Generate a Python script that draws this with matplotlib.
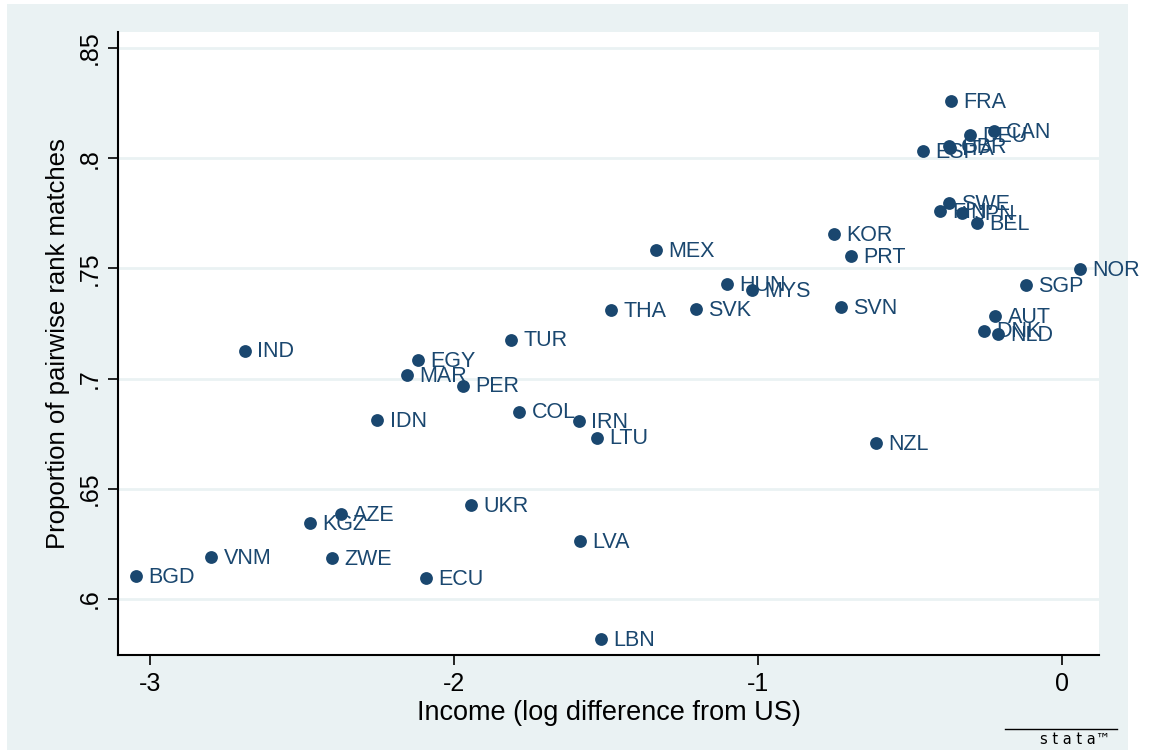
import matplotlib
matplotlib.use('Agg')
import matplotlib.pyplot as plt
from matplotlib.patches import Rectangle
from matplotlib.lines import Line2D

# country codes, log income difference from US, proportion of pairwise rank matches
countries = ['FRA', 'CAN', 'DEU', 'GBR', 'ITA', 'ESP', 'SWE', 'FIN', 'JPN', 'BEL',
             'KOR', 'PRT', 'MEX', 'NOR', 'SGP', 'HUN', 'MYS', 'THA', 'SVK', 'SVN',
             'AUT', 'DNK', 'NLD', 'TUR', 'IND', 'EGY', 'MAR', 'PER', 'IDN', 'COL',
             'IRN', 'LTU', 'NZL', 'UKR', 'AZE', 'KGZ', 'LVA', 'VNM', 'ZWE', 'BGD',
             'ECU', 'LBN']
income = [-0.365, -0.224, -0.303, -0.372, -0.369, -0.457, -0.372, -0.401, -0.329, -0.280,
          -0.750, -0.694, -1.336, 0.059, -0.118, -1.102, -1.020, -1.484, -1.204, -0.727,
          -0.220, -0.257, -0.211, -1.813, -2.688, -2.118, -2.155, -1.970, -2.253, -1.786,
          -1.589, -1.530, -0.612, -1.944, -2.372, -2.474, -1.586, -2.799, -2.401, -3.046,
          -2.092, -1.516]
matches = [0.8259, 0.8123, 0.8105, 0.8055, 0.8045, 0.8032, 0.7795, 0.7762, 0.7750, 0.7705,
           0.7655, 0.7555, 0.7582, 0.7495, 0.7423, 0.7427, 0.7402, 0.7309, 0.7314, 0.7323,
           0.7282, 0.7218, 0.7200, 0.7177, 0.7127, 0.7082, 0.7014, 0.6968, 0.6813, 0.6850,
           0.6805, 0.6732, 0.6709, 0.6427, 0.6386, 0.6345, 0.6263, 0.6188, 0.6186, 0.6104,
           0.6095, 0.5818]

navy = '#1a476f'
bg = '#eaf2f3'
sans = ['Liberation Sans', 'DejaVu Sans']

fig = plt.figure(figsize=(11.53, 7.54), dpi=100, facecolor='white')
fig.patches.append(Rectangle((7 / 1153, 4 / 754), 1121 / 1153, 746 / 754,
                             transform=fig.transFigure, facecolor=bg,
                             edgecolor='none', zorder=-1))

ax = fig.add_axes([118 / 1153, 1 - 655 / 754, 981 / 1153, 623 / 754])
ax.set_facecolor('white')

ax.scatter(income, matches, s=85, color=navy, zorder=3, linewidths=0)
for c, x, y in zip(countries, income, matches):
    ax.annotate(c, (x, y), xytext=(9, -1), textcoords='offset points',
                va='center', ha='left', color=navy, fontsize=15.5,
                family=sans, zorder=4)

ax.set_xlim(-3.105, 0.122)
ax.set_ylim(0.5745, 0.8573)
ax.set_xticks([-3, -2, -1, 0])
ax.set_xticklabels(['-3', '-2', '-1', '0'])
ax.set_yticks([0.6, 0.65, 0.7, 0.75, 0.8, 0.85])
ax.set_yticklabels(['.6', '.65', '.7', '.75', '.8', '.85'], rotation=90, va='center')
ax.tick_params(axis='both', direction='out', length=7, width=1.2, labelsize=18,
               colors='black', pad=5)
for lab in ax.get_xticklabels() + ax.get_yticklabels():
    lab.set_family(sans)

ax.grid(axis='y', color=bg, linewidth=2)
ax.set_axisbelow(True)
ax.spines['top'].set_visible(False)
ax.spines['right'].set_visible(False)
ax.spines['left'].set_linewidth(1.5)
ax.spines['bottom'].set_linewidth(1.5)

ax.set_xlabel('Income (log difference from US)', fontsize=19.5, family=sans, labelpad=3)
ax.set_ylabel('Proportion of pairwise rank matches', fontsize=18.5, family=sans, labelpad=5)

# stata logo
fig.text(1075 / 1153, 1 - 747 / 754, 's t a t a\u2122', ha='center', va='bottom',
         fontsize=10.5, family='DejaVu Sans', color='black')
fig.lines.append(Line2D([1005 / 1153, 1117 / 1153], [1 - 729 / 754, 1 - 729 / 754],
                        transform=fig.transFigure, color='black', linewidth=1))

fig.savefig('out.png', dpi=100, facecolor='white')
